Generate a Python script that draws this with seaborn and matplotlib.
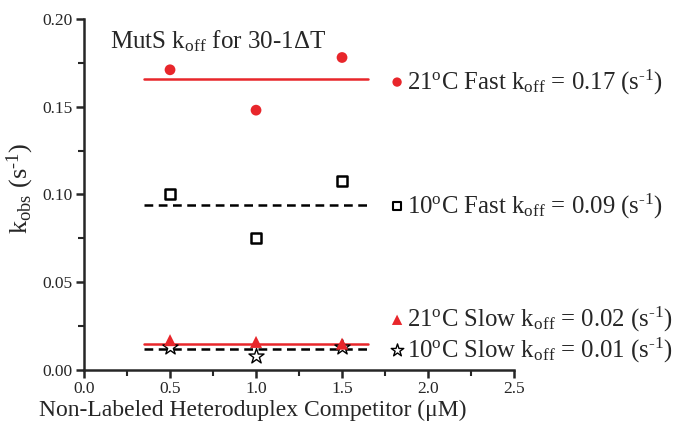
import matplotlib
matplotlib.use("Agg")
import matplotlib.pyplot as plt
import seaborn as sns
import pandas as pd
from matplotlib.ticker import MultipleLocator

# competitor concentration (uM)
conc = [0.5, 1.0, 1.5]

fast_21 = [0.171, 0.148, 0.178]
fast_10 = [0.100, 0.075, 0.1075]
slow_21 = [0.017, 0.016, 0.015]
slow_10 = [0.013, 0.008, 0.013]

# horizontal fit lines (mean k_off) and their x extent
fit_x = [0.35, 1.65]
fit_21_fast = 0.1655
fit_10_fast = 0.094
fit_21_slow = 0.0148
fit_10_slow = 0.012

# superscript "-1" drawn with a real hyphen rather than a minus sign
inv_s = "(s$^{\\rm \u2010 1}$)"
legend_labels = [
    r"21$^{\rm o}$C Fast k$_{\rm off}$ = 0.17 " + inv_s,
    r"10$^{\rm o}$C Fast k$_{\rm off}$ = 0.09 " + inv_s,
    r"21$^{\rm o}$C Slow k$_{\rm off}$ = 0.02 " + inv_s,
    r"10$^{\rm o}$C Slow k$_{\rm off}$ = 0.01 " + inv_s,
]

sns.set_style("ticks")
plt.rcParams["font.family"] = ["Liberation Serif", "DejaVu Serif"]
plt.rcParams["mathtext.fontset"] = "custom"
plt.rcParams["mathtext.rm"] = "Liberation Serif"
plt.rcParams["mathtext.it"] = "Liberation Serif:italic"

red = "#e8262b"

fig = plt.figure(figsize=(6.91, 4.25), dpi=100)
ax = fig.add_axes([0.1216, 0.1294, 0.6223, 0.8262])

df = pd.DataFrame({"x": conc, "f21": fast_21, "f10": fast_10,
                   "s21": slow_21, "s10": slow_10})

# fit lines
dash = (0, (3.5, 2.2))
sns.lineplot(x=fit_x, y=[fit_21_fast] * 2, color=red, lw=1.8, ax=ax)
sns.lineplot(x=fit_x, y=[fit_10_fast] * 2, color="black", lw=1.8, linestyle=dash, ax=ax)
sns.lineplot(x=fit_x, y=[fit_10_slow] * 2, color="black", lw=1.8, linestyle=dash, ax=ax)
sns.lineplot(x=fit_x, y=[fit_21_slow] * 2, color=red, lw=1.8, ax=ax)

# points
sns.scatterplot(data=df, x="x", y="f21", marker="o", s=60, color=red,
                edgecolor="none", ax=ax, zorder=3)
sns.scatterplot(data=df, x="x", y="f10", marker="s", s=50, facecolor="white",
                edgecolor="black", linewidth=1.8, ax=ax, zorder=3)
sns.scatterplot(data=df, x="x", y="s10", marker="*", s=130, facecolor="white",
                edgecolor="black", linewidth=1.0, ax=ax, zorder=3)
sns.scatterplot(data=df, x="x", y="s21", marker="^", s=75, color=red,
                edgecolor="none", ax=ax, zorder=4)

ax.set_xlim(0, 2.5)
ax.set_ylim(0, 0.20)
ax.xaxis.set_major_locator(MultipleLocator(0.5))
ax.xaxis.set_minor_locator(MultipleLocator(0.25))
ax.yaxis.set_major_locator(MultipleLocator(0.05))
ax.yaxis.set_minor_locator(MultipleLocator(0.025))
ax.xaxis.set_major_formatter(lambda v, p: f"{v:.1f}")
ax.yaxis.set_major_formatter(lambda v, p: f"{v:.2f}")
ax.tick_params(which="major", length=6, width=1.8, labelsize=12.5, pad=2)
ax.tick_params(which="minor", length=4, width=1.5)
for s in ["left", "bottom"]:
    ax.spines[s].set_linewidth(1.8)
sns.despine(ax=ax)

ax.set_xlabel("Non-Labeled Heteroduplex Competitor (\u03bcM)", fontsize=17)
ax.xaxis.set_label_coords(0.393, -0.085)
ax.set_ylabel(r"k$_{\rm obs}$ " + inv_s, fontsize=19)
ax.yaxis.set_label_coords(-0.112, 0.518)

ax.text(0.06, 0.935, r"MutS k$_{\rm off}$ for 30-1" + "\u0394T", transform=ax.transAxes,
        fontsize=18, va="center", ha="left")

# legend entries placed beside the fit lines
leg_y = [0.82, 0.466, 0.143, 0.056]
leg_style = [
    dict(marker="o", s=45, color=red, edgecolor="none"),
    dict(marker="s", s=35, facecolor="white", edgecolor="black", linewidth=1.5),
    dict(marker="^", s=55, color=red, edgecolor="none"),
    dict(marker="*", s=90, facecolor="white", edgecolor="black", linewidth=1.0),
]
for yy, lab, st in zip(leg_y, legend_labels, leg_style):
    ax.scatter([0.728], [yy], transform=ax.transAxes, clip_on=False, **st)
    ax.text(0.75, yy, lab, transform=ax.transAxes, fontsize=17.8,
            va="center", ha="left", clip_on=False)

fig.savefig("out.png", dpi=100)
